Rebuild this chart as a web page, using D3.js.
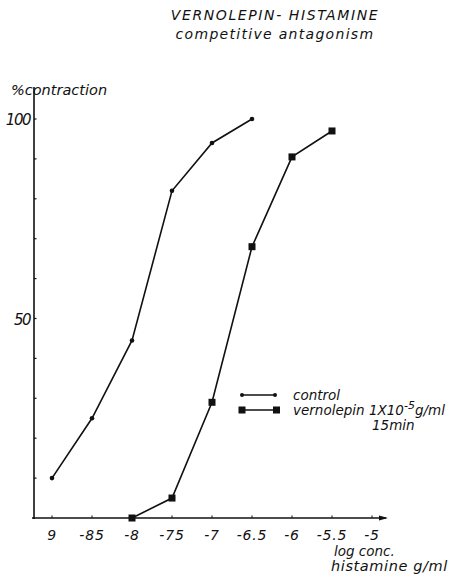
<!DOCTYPE html>
<html><head><meta charset="utf-8">
<script src="https://cdn.jsdelivr.net/npm/d3@7"></script>
<style>body{margin:0;background:#fff}text{font-family:"DejaVu Sans",sans-serif;font-style:italic;fill:#111}</style>
</head><body><svg id="c" width="455" height="576"></svg>
<script>
const xTicks = [-9, -8.5, -8, -7.5, -7, -6.5, -6, -5.5, -5];
const xTickLabels = ["9", "-85", "-8", "-75", "-7", "-6.5", "-6", "-5.5", "-5"];
const yTicks = [0, 10, 20, 30, 40, 50, 60, 70, 80, 90, 100];
const yTickLabels = {100: "100", 50: "50"};
const controlX = [-9, -8.5, -8, -7.5, -7, -6.5];
const controlY = [10, 25, 44.5, 82, 94, 100];
const vernX = [-8, -7.5, -7, -6.5, -6, -5.5];
const vernY = [0, 5, 29, 68, 90.5, 97];

const svg = d3.select("#c");
const x = d3.scaleLinear().domain([-9, -5]).range([52, 372]);
const y = d3.scaleLinear().domain([0, 100]).range([518, 119]);
const ink = "#111";

// title
svg.append("text").attr("x", 275).attr("y", 20).attr("text-anchor", "middle")
  .style("font-size", "14px").style("letter-spacing", "1.6px").text("VERNOLEPIN- HISTAMINE");
svg.append("text").attr("x", 275).attr("y", 39).attr("text-anchor", "middle")
  .style("font-size", "14px").style("letter-spacing", "1.3px").text("competitive antagonism");

// axes lines
svg.append("line").attr("x1", 34).attr("x2", 34).attr("y1", 87).attr("y2", 519)
  .attr("stroke", ink).attr("stroke-width", 1.6);
svg.append("line").attr("x1", 32).attr("x2", 386).attr("y1", 518).attr("y2", 518)
  .attr("stroke", ink).attr("stroke-width", 1.6);
svg.append("path").attr("d", "M388,518 l-9,-2.5 l0,5 z").attr("fill", ink);

// y ticks
svg.selectAll(".yt").data(yTicks.filter(d => d > 0)).join("line")
  .attr("x1", 34).attr("x2", 36.5).attr("y1", d => y(d)).attr("y2", d => y(d))
  .attr("stroke", ink).attr("stroke-width", 1.2);
svg.selectAll(".yl").data(Object.keys(yTickLabels).map(Number)).join("text")
  .attr("x", 30).attr("y", d => y(d) + 6).attr("text-anchor", "end")
  .style("font-size", "15px").style("letter-spacing", "-1.5px").text(d => yTickLabels[d]);

// x ticks
svg.selectAll(".xt").data(xTicks).join("line")
  .attr("x1", d => x(d)).attr("x2", d => x(d)).attr("y1", 518).attr("y2", 515.5)
  .attr("stroke", ink).attr("stroke-width", 1);
svg.selectAll(".xl").data(xTicks).join("text")
  .attr("x", d => x(d)).attr("y", 540).attr("text-anchor", "middle")
  .style("font-size", "14px").style("letter-spacing", "0.8px")
  .text((d, i) => xTickLabels[i]);

// axis titles
svg.append("text").attr("x", 11).attr("y", 95).style("font-size", "14.5px").text("%contraction");
svg.append("text").attr("x", 334).attr("y", 556).style("font-size", "13.5px").text("log conc.");
svg.append("text").attr("x", 331).attr("y", 571).style("font-size", "14.5px").style("letter-spacing", "0.6px").text("histamine g/ml");

const line = d3.line().x(d => x(d[0])).y(d => y(d[1]));
const cData = controlX.map((v, i) => [v, controlY[i]]);
const vData = vernX.map((v, i) => [v, vernY[i]]);

svg.append("path").datum(cData).attr("d", line).attr("fill", "none").attr("stroke", ink).attr("stroke-width", 1.6);
svg.selectAll(".cp").data(cData).join("circle").attr("cx", d => x(d[0])).attr("cy", d => y(d[1]))
  .attr("r", 2.3).attr("fill", ink);
svg.append("path").datum(vData).attr("d", line).attr("fill", "none").attr("stroke", ink).attr("stroke-width", 1.6);
svg.selectAll(".vp").data(vData).join("rect").attr("x", d => x(d[0]) - 3.5).attr("y", d => y(d[1]) - 3.5)
  .attr("width", 7).attr("height", 7).attr("fill", ink);

// legend
svg.append("line").attr("x1", 242).attr("x2", 275).attr("y1", 395).attr("y2", 395).attr("stroke", ink).attr("stroke-width", 1.5);
svg.append("circle").attr("cx", 242).attr("cy", 395).attr("r", 2).attr("fill", ink);
svg.append("circle").attr("cx", 275).attr("cy", 395).attr("r", 2).attr("fill", ink);
svg.append("text").attr("x", 293).attr("y", 400).style("font-size", "13.5px").text("control");
svg.append("line").attr("x1", 242).attr("x2", 276).attr("y1", 410).attr("y2", 410).attr("stroke", ink).attr("stroke-width", 1.5);
svg.append("rect").attr("x", 238.5).attr("y", 406.5).attr("width", 7).attr("height", 7).attr("fill", ink);
svg.append("rect").attr("x", 273).attr("y", 406.5).attr("width", 7).attr("height", 7).attr("fill", ink);
const vt = svg.append("text").attr("x", 293).attr("y", 415).style("font-size", "13.5px");
vt.append("tspan").text("vernolepin 1X10");
vt.append("tspan").attr("dy", -6).style("font-size", "11px").text("-5");
vt.append("tspan").attr("dy", 6).text("g/ml");
svg.append("text").attr("x", 372).attr("y", 430).style("font-size", "13.5px").text("15min");
</script></body></html>
